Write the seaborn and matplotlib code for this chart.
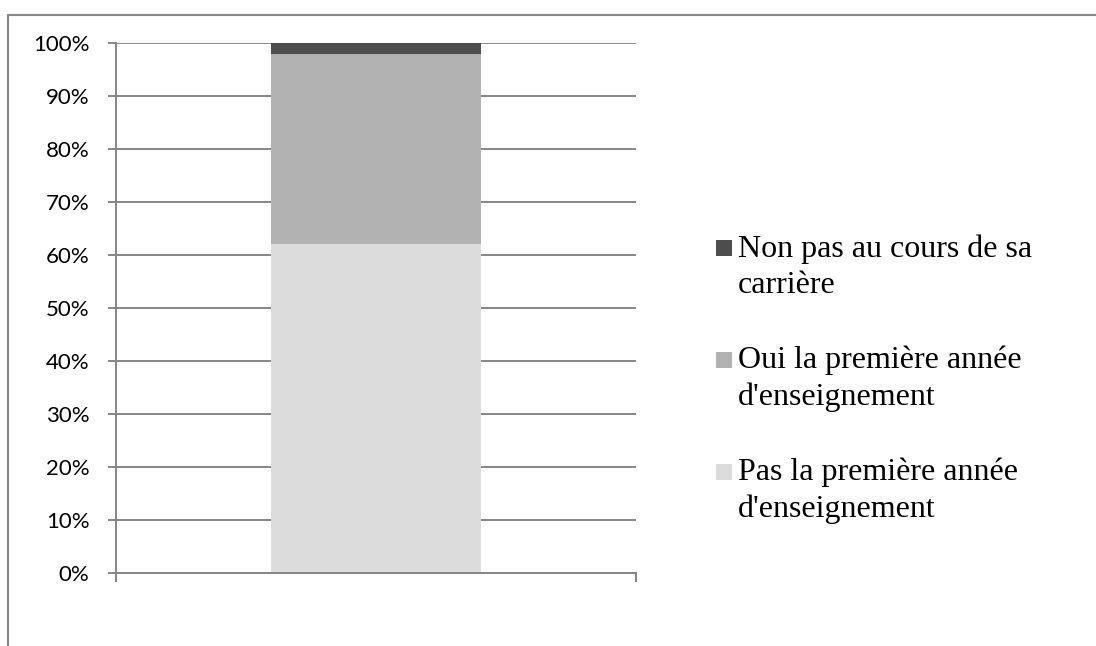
import matplotlib
matplotlib.use("Agg")
import matplotlib.pyplot as plt
from matplotlib.patches import Rectangle
from matplotlib.lines import Line2D
import numpy as np
import seaborn as sns

# --- data -------------------------------------------------------------
group = ["Enseignants"]
series = [
    "Pas la première année d'enseignement",
    "Oui la première année d'enseignement",
    "Non pas au cours de sa carrière",
]
legend_labels = [
    "Pas la première année\nd'enseignement",
    "Oui la première année\nd'enseignement",
    "Non pas au cours de sa\ncarrière",
]
shares = [0.62, 0.36, 0.02]
colors = ["#DCDCDC", "#B2B2B2", "#4D4D4D"]
yticks = [0.0, 0.1, 0.2, 0.3, 0.4, 0.5, 0.6, 0.7, 0.8, 0.9, 1.0]
ytick_labels = ["0%", "10%", "20%", "30%", "40%", "50%", "60%", "70%", "80%", "90%", "100%"]

# --- style --------------------------------------------------------------
sns.set_style("white")
plt.rcParams["font.family"] = ["Lato", "DejaVu Sans"]
GRAY = "#868686"

W, H = 1096, 646
fig = plt.figure(figsize=(W / 100, H / 100), dpi=100)


def fx(px):
    return px / W


def fy(px):
    return 1 - px / H


ax = fig.add_axes([fx(116), fy(573), fx(636) - fx(116), fy(43) - fy(573)])

# stacked 100% bar: draw cumulative totals, tallest first
tops = np.cumsum(shares)
for i in reversed(range(len(series))):
    sns.barplot(x=group, y=[tops[i]], color=colors[i], saturation=1,
                width=0.402, linewidth=0, edgecolor="none", ax=ax)

ax.set_xlim(-0.5, 0.5)
ax.set_ylim(0, 1)
ax.set_xlabel("")
ax.set_ylabel("")
ax.set_yticks(yticks, ytick_labels)
ax.set_xticks([-0.5, 0.5], ["", ""])

ax.set_axisbelow(True)
ax.yaxis.grid(True, color=GRAY, linewidth=1.4)
ax.xaxis.grid(False)

for side in ["top", "right"]:
    ax.spines[side].set_visible(False)
for side in ["left", "bottom"]:
    ax.spines[side].set_visible(True)
    ax.spines[side].set_color(GRAY)
    ax.spines[side].set_linewidth(1.4)

ax.tick_params(axis="y", direction="out", length=6, width=1.4, color=GRAY,
               pad=13, labelsize=16, labelcolor="black", left=True)
ax.tick_params(axis="x", direction="out", length=6.5, width=1.4, color=GRAY,
               labelbottom=False, bottom=True)

# outer chart frame (top and left edges)
fig.add_artist(Line2D([fx(8), 1], [fy(15), fy(15)], transform=fig.transFigure,
                      color=GRAY, linewidth=1.5))
fig.add_artist(Line2D([fx(8), fx(8)], [fy(15), 0], transform=fig.transFigure,
                      color=GRAY, linewidth=1.5))

# legend: top series listed first
for k, idx in enumerate(reversed(range(len(series)))):
    cy = 248 + 112 * k
    fig.add_artist(Rectangle((fx(716), fy(cy + 8)), fx(16), 16 / H,
                             transform=fig.transFigure,
                             facecolor=colors[idx], edgecolor="none"))
    # baseline of the last line of the label
    fig.text(fx(738), fy(293 + 112 * k), legend_labels[idx],
             ha="left", va="baseline", fontsize=23, linespacing=1.33,
             family=["Liberation Serif", "DejaVu Serif"], color="black")

fig.savefig("out.png", dpi=100)
